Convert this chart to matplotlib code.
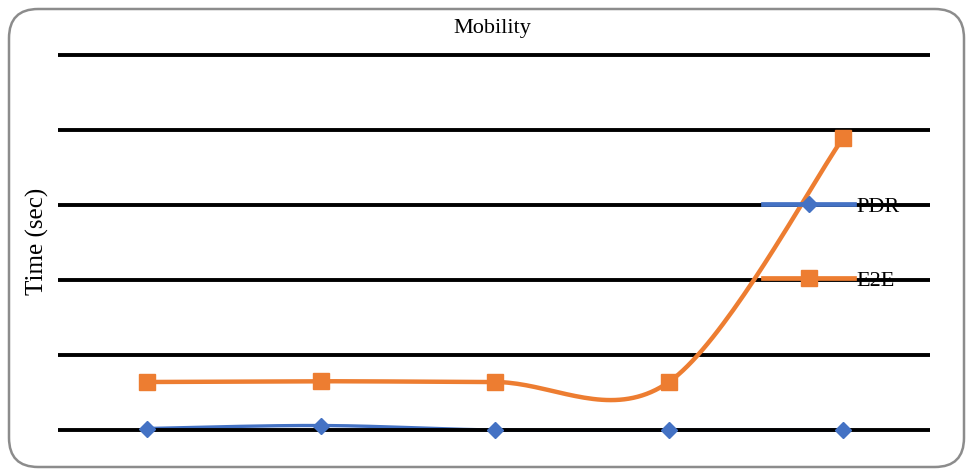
import numpy as np
import matplotlib
matplotlib.use("Agg")
import matplotlib.pyplot as plt
from matplotlib.patches import FancyBboxPatch
from matplotlib.lines import Line2D

plt.rcParams['font.family'] = ['Liberation Serif', 'DejaVu Serif']

# ---- data ----
x_pos = [1, 2, 3, 4, 5]
pdr = [0.02, 0.06, 0.0, 0.0, 0.0]
e2e = [0.64, 0.65, 0.64, 0.64, 3.89]
y_ticks = [0, 1, 2, 3, 4, 5]
title = "Mobility"
ylabel = "Time (sec)"
series_names = ["PDR", "E2E"]


def smooth(xs, ys, n=40):
    """Excel-like smoothed line (Catmull-Rom as cubic Bezier)."""
    P = np.column_stack([xs, ys]).astype(float)
    m = len(P)
    out = []
    for i in range(m - 1):
        p0 = P[i - 1] if i > 0 else P[i]
        p1 = P[i]
        p2 = P[i + 1]
        p3 = P[i + 2] if i + 2 < m else P[i + 1]
        c1 = p1 + (p2 - p0) / 6.0
        c2 = p2 - (p3 - p1) / 6.0
        t = np.linspace(0, 1, n)[:, None]
        seg = ((1 - t) ** 3) * p1 + 3 * ((1 - t) ** 2) * t * c1 + 3 * (1 - t) * t ** 2 * c2 + t ** 3 * p2
        out.append(seg if i == 0 else seg[1:])
    s = np.vstack(out)
    return s[:, 0], s[:, 1]


W, H = 973, 476
fig = plt.figure(figsize=(W / 100, H / 100), dpi=100)

# rounded border
border = FancyBboxPatch((9 / W, 9 / H), (W - 18) / W, (H - 18) / H,
                        boxstyle="round,pad=0,rounding_size=0.03",
                        transform=fig.transFigure, fill=False,
                        edgecolor="#8c8c8c", linewidth=1.8, mutation_aspect=W / H)
fig.patches.append(border)

# axes: x 58..930 px, gridline 0 at y=430 px, 5 at y=55 px
unit = 75.0
y_lo, y_hi = -0.3, 5.2
top_px = 430 - y_hi * unit
bot_px = 430 - y_lo * unit
left_px, right_px = 58, 930
ax = fig.add_axes([left_px / W, 1 - bot_px / H, (right_px - left_px) / W, (bot_px - top_px) / H])
ax.set_xlim(0.49, 5.5)
ax.set_ylim(y_lo, y_hi)
for s in ax.spines.values():
    s.set_visible(False)
ax.set_xticks([])
ax.set_yticks([])
for yv in y_ticks:
    ax.axhline(yv, color="black", linewidth=2.8, zorder=2)

blue = "#4472C4"
orange = "#ED7D31"

sx, sy = smooth(x_pos, pdr)
ax.plot(sx, sy, color=blue, linewidth=2.4, zorder=1.5, solid_capstyle="round")
ax.plot(x_pos, pdr, linestyle="none", marker="D", markersize=8, color=blue, zorder=4)

sx, sy = smooth(x_pos, e2e)
ax.plot(sx, sy, color=orange, linewidth=3.2, zorder=3, solid_capstyle="round")
ax.plot(x_pos, e2e, linestyle="none", marker="s", markersize=11, color=orange, zorder=4)

handles = [Line2D([], [], color=blue, linewidth=3.4, marker="D", markersize=8),
           Line2D([], [], color=orange, linewidth=3.4, marker="s", markersize=11)]
leg = fig.legend(handles, series_names, loc="upper left",
                 bbox_to_anchor=(763 / W, 1 - 196 / H),
                 frameon=False, fontsize=16, handlelength=4.1, handletextpad=0.08,
                 labelspacing=2.43, borderpad=0, borderaxespad=0)
leg.set_zorder(5)

fig.text(492 / W, 1 - 29 / H, title, ha="center", va="center", fontsize=16)
fig.text(37 / W, 1 - 241 / H, ylabel, ha="center", va="center", rotation=90, fontsize=18)

fig.savefig("out.png", dpi=100)
